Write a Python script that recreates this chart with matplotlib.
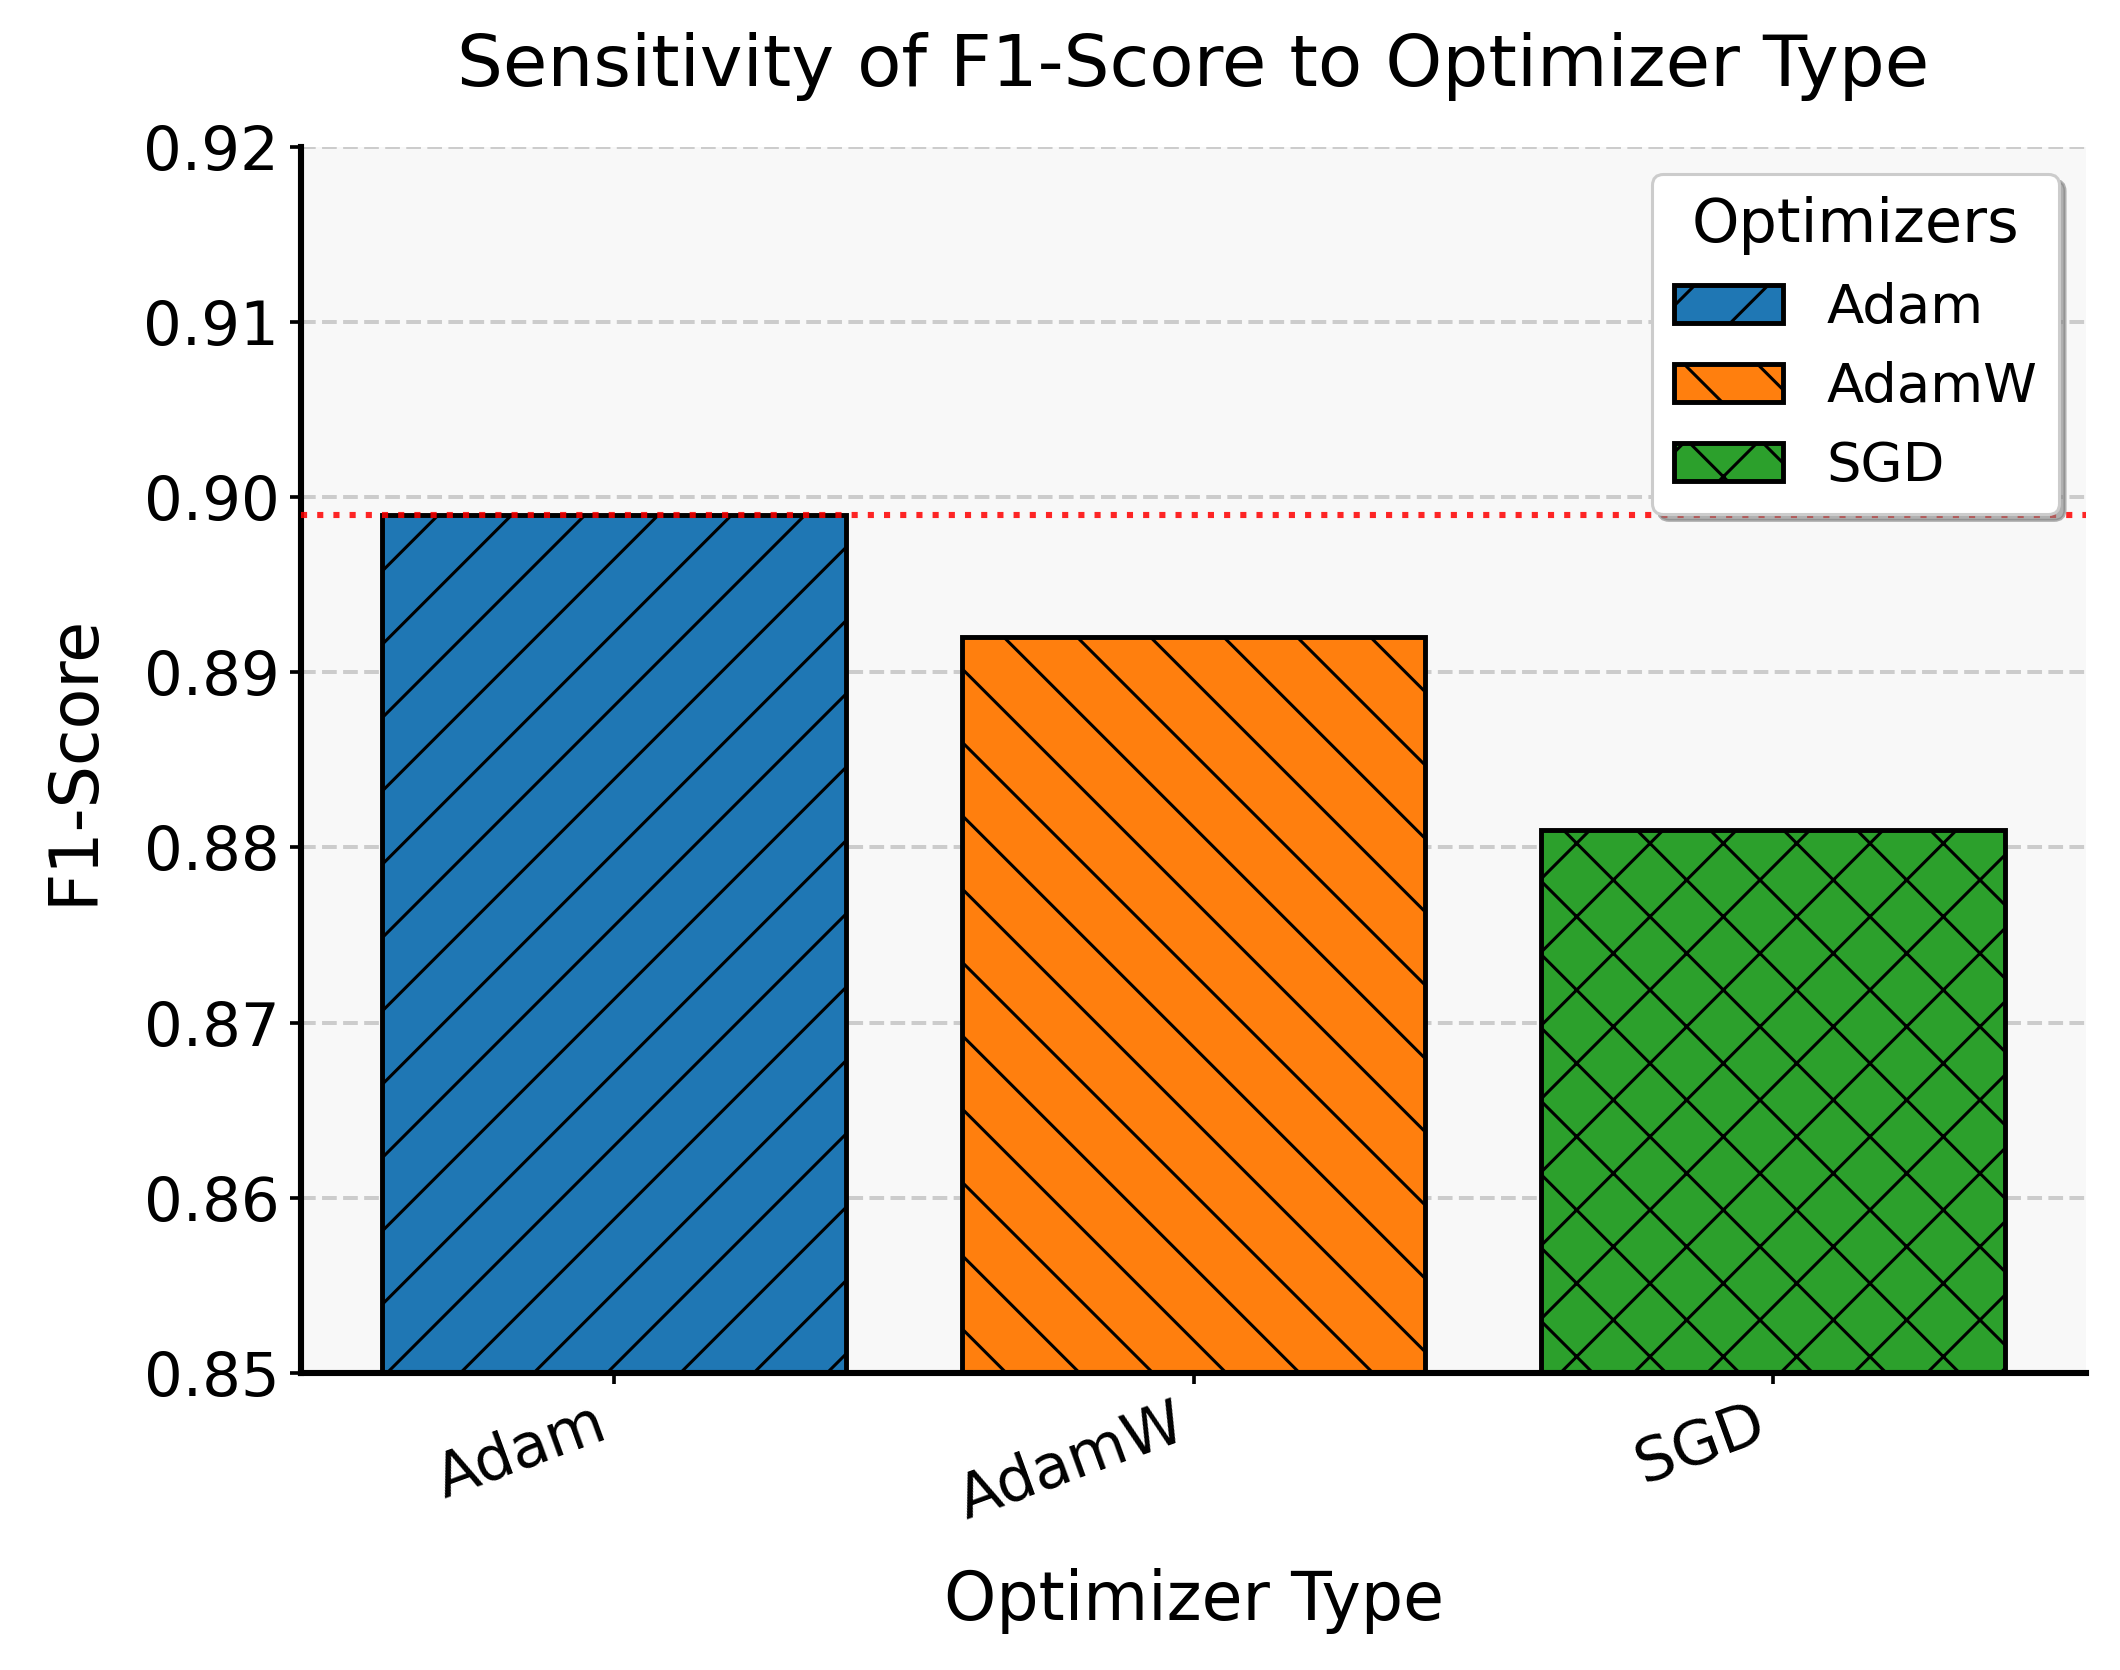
import matplotlib
matplotlib.use('Agg')
import matplotlib.pyplot as plt

# Дані
optimizers = ['Adam', 'AdamW', 'SGD']
f1_scores = [0.899, 0.892, 0.881]
bar_colors = ['#1f77b4', '#ff7f0e', '#2ca02c']
hatches = ['/', '\\', 'x']
y_ticks = [0.85, 0.86, 0.87, 0.88, 0.89, 0.90, 0.91, 0.92]

DPI = 220
fig = plt.figure(figsize=(2120 / DPI, 1670 / DPI), dpi=DPI)
ax = fig.add_axes([0.142, 0.178, 0.842, 0.734])
ax.set_facecolor('#f8f8f8')

bars = ax.bar(optimizers, f1_scores, width=0.8, color=bar_colors,
              edgecolor='black', linewidth=1.6, label=optimizers, zorder=2)
for b, h in zip(bars, hatches):
    b.set_hatch(h)

# лінія максимуму
ax.axhline(max(f1_scores), color='red', linestyle=':', linewidth=2.0,
           alpha=0.85, zorder=3)

ax.set_ylim(0.85, 0.92)
ax.set_yticks(y_ticks)
ax.set_yticklabels([f"{v:.2f}" for v in y_ticks])
ax.yaxis.grid(True, linestyle='--', color='#cccccc', linewidth=1.3, zorder=0)
ax.set_axisbelow(True)

for s in ['top', 'right']:
    ax.spines[s].set_visible(False)
for s in ['left', 'bottom']:
    ax.spines[s].set_linewidth(2.0)

ax.tick_params(axis='both', labelsize=20, length=3.6, width=1.2)
plt.setp(ax.get_xticklabels(), rotation=20, ha='right')

ax.set_title('Sensitivity of F1-Score to Optimizer Type', fontsize=23.7, pad=20)
ax.set_xlabel('Optimizer Type', fontsize=21.8, labelpad=12)
ax.set_ylabel('F1-Score', fontsize=21.8, labelpad=12)

leg = ax.legend(title='Optimizers', loc='upper right', fontsize=17.8,
                title_fontsize=19.8, fancybox=True, framealpha=1,
                shadow={'color': 'gray', 'alpha': 0.6})

fig.savefig('out.png', dpi=DPI)
